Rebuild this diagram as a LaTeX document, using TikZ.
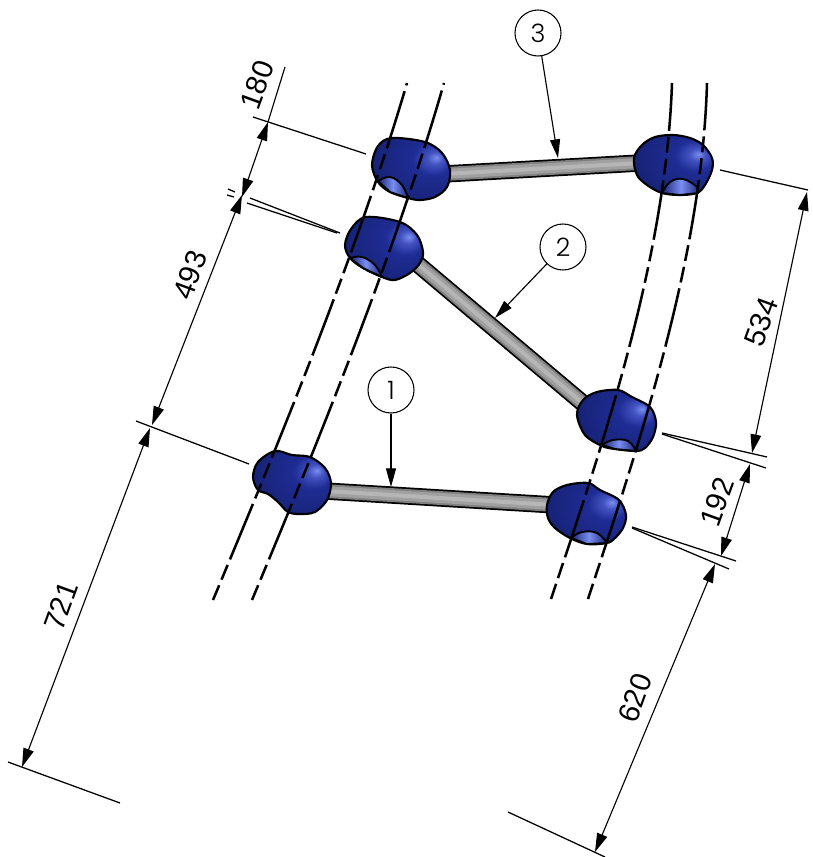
\documentclass[tikz,border=0pt]{standalone}
\usepackage{fontspec}
\setmainfont{Liberation Sans}
\newfontfamily\balloonfont{Poppins Light}
\usetikzlibrary{arrows.meta}
\definecolor{hl}{RGB}{122,142,240}
\definecolor{bm}{RGB}{66,82,192}
\definecolor{bb}{RGB}{30,44,148}
\definecolor{bd}{RGB}{24,36,122}
\definecolor{be}{RGB}{13,22,70}
\definecolor{rodA}{RGB}{128,128,128}
\definecolor{rodB}{RGB}{160,160,160}
\definecolor{rodC}{RGB}{182,182,182}
\pgfdeclareradialshading{blobshade}{\pgfpoint{16bp}{9bp}}{%
 color(0bp)=(hl); color(5bp)=(bm); color(13bp)=(bb); color(32bp)=(bd); color(58bp)=(be); color(90bp)=(be)}
\tikzset{
 blob/.style={shading=blobshade,draw=black,line width=1.6pt,line join=round},
 hole/.style={left color=bd,right color=bd,middle color=hl,draw=black,line width=1.4pt,line join=round},
 centre/.style={line width=1.9pt,dash pattern=on 12pt off 4.5pt on 12pt off 4.5pt on 45pt off 4.5pt},
 dimline/.style={line width=.85pt,{Triangle[length=14pt,width=8pt]}-{Triangle[length=14pt,width=8pt]}},
 plain/.style={line width=.85pt},
 ext/.style={line width=.95pt},
 lead/.style={line width=.85pt,-{Triangle[length=14pt,width=7.5pt]}},
 dimtext/.style={font=\fontsize{22}{22}\selectfont,rotate=70},
 balloon/.style={circle,draw=black,line width=.8pt,minimum size=34.5pt,inner sep=0pt,font=\balloonfont\fontsize{19}{19}\selectfont},
}
\newcommand{\rodpath}[2]{%
 \draw[black,line width=13pt] (#1)--(#2);
 \draw[rodA,line width=10.4pt] (#1)--(#2);
 \draw[rodB,line width=7.5pt] (#1)--(#2);
 \draw[rodC,line width=3pt] (#1)--(#2);
}
\begin{document}
\begin{tikzpicture}[x=0.75pt,y=-0.75pt]
\useasboundingbox (0,0) rectangle (813,857);
% rods
\coordinate (r1a) at (325,491); \coordinate (r1b) at (555,505);
\coordinate (r2a) at (414,261); \coordinate (r2b) at (585,405);
\coordinate (r3a) at (444,174); \coordinate (r3b) at (640,163);
\rodpath{r1a}{r1b}
\rodpath{r2a}{r2b}
\rodpath{r3a}{r3b}
% blobs
\shadedraw[blob] plot[smooth cycle,tension=.55] coordinates {(372,165)(378,146)(392,138)(425,142)(442,153)(450,170)(447,187)(435,197)(420,200)(408,198)(390,192)(378,182)};
\shadedraw[hole] plot[smooth,tension=.7] coordinates {(378,181)(390,177)(402,185)(408,198)} -- (390,192) -- cycle;
\shadedraw[blob] plot[smooth cycle,tension=.55] coordinates {(345,245)(351,229)(366,217)(400,222)(417,235)(423,252)(420,263)(410,273)(395,280)(382,277)(363,268)(350,258)};
\shadedraw[hole] plot[smooth,tension=.7] coordinates {(350,258)(362,257)(375,265)(382,277)} -- (363,268) -- cycle;
\shadedraw[blob] plot[smooth cycle,tension=.55] coordinates {(634,158)(642,145)(655,137)(673,135)(690,138)(703,145)(712,158)(712,170)(705,185)(697,193)(680,195)(662,193)(647,185)(637,175)};
\shadedraw[hole] plot[smooth,tension=.7] coordinates {(662,193)(670,182)(683,179)(697,187)(698,193)} -- (680,195) -- cycle;
\shadedraw[blob] plot[smooth cycle,tension=.55] coordinates {(577,415)(583,400)(597,392)(618,390)(632,397)(650,407)(656,422)(653,437)(645,448)(636,451)(615,449)(602,446)(585,435)};
\shadedraw[hole] plot[smooth,tension=.7] coordinates {(602,445)(613,440)(628,441)(636,451)} -- (615,449) -- cycle;
\shadedraw[blob] plot[smooth cycle,tension=.55] coordinates {(547,505)(553,492)(567,485)(588,483)(600,490)(619,500)(626,515)(623,528)(615,538)(607,543)(587,544)(570,538)(555,528)(548,518)};
\shadedraw[hole] plot[smooth,tension=.7] coordinates {(571,538)(582,532)(597,533)(607,543)} -- (587,544) -- cycle;
\shadedraw[blob] plot[smooth cycle,tension=.55] coordinates {(253,477)(258,462)(275,451)(292,455)(310,457)(325,468)(331,483)(327,500)(315,512)(300,514)(288,512)(278,502)(268,494)(258,490)};
% centre lines
\draw[centre] (213,600) .. controls (280,440) and (358,250) .. (407,83);
\draw[centre] (252,600) .. controls (319,440) and (396,250) .. (444,83);
\draw[centre] (551,599) .. controls (602,447) and (666,260) .. (672,83);
\draw[centre] (588,599) .. controls (638,447) and (702,260) .. (707,83);
% extension lines
\draw[ext] (253,117)--(366,154);
\draw[ext] (250,198)--(340,233);
\draw[ext] (247,203)--(337,233);
\draw[ext] (228,189)--(235,192);
\draw[ext] (227,195)--(234,197);
\draw[ext] (136,421)--(249,464);
\draw[ext] (8,762)--(120,803);
\draw[ext] (720,170)--(808,190);
\draw[ext] (662,433)--(767,457);
\draw[ext] (662,434)--(766,468);
\draw[ext] (632,527)--(736,561);
\draw[ext] (632,528)--(729,569);
\draw[ext] (508,812)--(605,857);
% dimension lines
\coordinate (d0) at (285,67);
\coordinate (d1) at (268,122); \coordinate (d2) at (242,197);
\coordinate (d3) at (242,195); \coordinate (d4) at (152,425);
\coordinate (d5) at (150,428); \coordinate (d6) at (22,767);
\coordinate (d7) at (807,192); \coordinate (d8) at (752,453);
\coordinate (d9) at (750,464); \coordinate (d10) at (721,556);
\coordinate (d11) at (715,564); \coordinate (d12) at (595,852);
\draw[plain] (d0)--(d1);
\draw[dimline] (d1)--(d2);
\draw[dimline] (d3)--(d4);
\draw[dimline] (d5)--(d6);
\draw[dimline] (d7)--(d8);
\draw[dimline] (d9)--(d10);
\draw[dimline] (d11)--(d12);
\node[dimtext] (t180) at (257,85) {180};
\node[dimtext] (t493) at (190,275) {493};
\node[dimtext] (t721) at (61,606) {721};
\node[dimtext] (t534) at (761,322) {534};
\node[dimtext] (t192) at (717,502) {192};
\node[dimtext] (t620) at (635,698) {620};
% balloons
\node[balloon] (b1) at (391,390) {1};
\node[balloon] (b2) at (563,247) {2};
\node[balloon] (b3) at (538,33) {3};
\coordinate (p1) at (391,487);
\coordinate (p2) at (495,318);
\coordinate (p3) at (558,158);
\draw[lead] (b1)--(p1);
\draw[lead] (b2)--(p2);
\draw[lead] (b3)--(p3);
\end{tikzpicture}
\end{document}
